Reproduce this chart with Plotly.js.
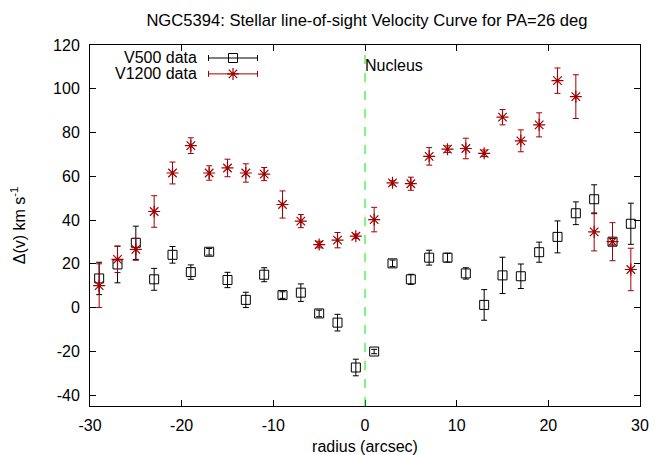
<!DOCTYPE html>
<html>
<head>
<meta charset="utf-8">
<script src="https://cdn.plot.ly/plotly-3.0.1.min.js"></script>
<style>html,body{margin:0;padding:0;background:#fff;}#chart{width:654px;height:455px;}</style>
</head>
<body>
<div id="chart"></div>
<script>
const radius = [-29,-27,-25,-23,-21,-19,-17,-15,-13,-11,-9,-7,-5,-3,-1,1,3,5,7,9,11,13,15,17,19,21,23,25,27,29];
const v500 = [13.3,19.7,29.6,12.9,24.1,16.2,25.5,12.6,3.5,15.0,5.7,6.8,-2.7,-6.9,-27.4,-20.1,20.2,12.9,22.8,22.8,15.6,1.2,14.7,14.3,25.3,32.3,43.1,49.5,30.1,38.3];
const v500err = [7.4,8.4,7.6,5.0,3.8,3.3,1.5,3.5,3.5,3.2,1.5,4.0,1.5,3.8,3.8,1.0,1.5,2.3,3.4,2.0,2.6,7.0,8.3,5.6,4.6,7.3,5.2,6.6,1.5,9.4];
const v1200 = [10.0,22.0,26.6,43.9,61.5,74.0,61.5,63.8,61.5,61.0,47.1,39.5,28.8,30.8,32.6,40.2,57.0,56.6,69.1,72.4,72.7,70.5,87.0,76.2,83.5,103.7,96.4,34.6,30.1,17.4];
const v1200err = [10.0,6.0,5.0,7.2,5.0,3.6,3.3,4.0,4.2,3.0,6.2,3.0,1.5,3.5,1.0,5.6,1.0,3.0,4.0,1.5,4.7,1.5,3.5,5.0,5.5,5.8,10.0,8.7,8.7,9.7];
const seriesNames = ['V500 data','V1200 data'];
const xTicks = [-30,-20,-10,0,10,20,30];
const yTicks = [-40,-20,0,20,40,60,80,100,120];

const black = '#000000';
const red = '#a00000';
const font = 'Liberation Sans, Arial, sans-serif';

const t500 = {
  x: radius, y: v500, type: 'scatter', mode: 'markers', name: seriesNames[0], showlegend: false,
  marker: {symbol: 'square-open', size: 9, color: black, line: {width: 1, color: black}},
  error_y: {type: 'data', array: v500err, visible: true, color: black, thickness: 1, width: 3}
};
const t1200 = {
  x: radius, y: v1200, type: 'scatter', mode: 'markers', name: seriesNames[1], showlegend: false,
  marker: {symbol: 'asterisk-open', size: 10, color: red, line: {width: 1.2, color: red}},
  error_y: {type: 'data', array: v1200err, visible: true, color: red, thickness: 1, width: 3}
};
// legend samples on a hidden overlay axis (0..1 of plot area)
const leg500 = {
  x: [0.26], y: [0.964], xaxis: 'x2', yaxis: 'y2', type: 'scatter', mode: 'markers', showlegend: false, hoverinfo: 'skip',
  marker: {symbol: 'square-open', size: 9, color: black, line: {width: 1, color: black}},
  error_x: {type: 'data', array: [0.0445], visible: true, color: black, thickness: 1, width: 3}
};
const leg1200 = {
  x: [0.26], y: [0.92], xaxis: 'x2', yaxis: 'y2', type: 'scatter', mode: 'markers', showlegend: false, hoverinfo: 'skip',
  marker: {symbol: 'asterisk-open', size: 10, color: red, line: {width: 1.2, color: red}},
  error_x: {type: 'data', array: [0.0445], visible: true, color: red, thickness: 1, width: 3}
};

const layout = {
  width: 654, height: 455,
  margin: {l: 90, r: 14, t: 45, b: 49},
  paper_bgcolor: '#fff', plot_bgcolor: '#fff',
  font: {family: font, size: 16, color: '#000'},
  title: {text: 'NGC5394: Stellar line-of-sight Velocity Curve for PA=26 deg', font: {family: font, size: 16.6}, x: 0.561, xanchor: 'center', y: 0.956, yanchor: 'middle'},
  showlegend: false,
  xaxis: {
    range: [-30, 30], tickvals: xTicks, ticktext: xTicks.map(String),
    ticks: 'inside', ticklen: 6, tickcolor: '#000', showline: true, linecolor: '#000', linewidth: 1, mirror: 'ticks',
    showgrid: false, zeroline: false, ticklabelstandoff: 5,
    title: {text: 'radius (arcsec)', font: {family: font, size: 16}, standoff: 11}
  },
  yaxis: {
    range: [-45, 120], tickvals: yTicks, ticktext: yTicks.map(String),
    ticks: 'inside', ticklen: 6, tickcolor: '#000', showline: true, linecolor: '#000', linewidth: 1, mirror: 'ticks',
    showgrid: false, zeroline: false, ticklabelstandoff: 6,
    title: {text: 'Δ(v) km s<sup>-1</sup>', font: {family: font, size: 16}, standoff: 23}
  },
  xaxis2: {overlaying: 'x', range: [0, 1], visible: false, fixedrange: true},
  yaxis2: {overlaying: 'y', range: [0, 1], visible: false, fixedrange: true},
  shapes: [{type: 'line', xref: 'x', yref: 'paper', x0: 0, x1: 0, y0: 0, y1: 1, line: {color: '#00ee00', width: 1, dash: 'dash'}}],
  annotations: [
    {text: 'Nucleus', xref: 'x', yref: 'paper', x: 0, y: 0.943, xanchor: 'left', yanchor: 'middle', xshift: -2, showarrow: false, font: {family: font, size: 16}},
    {text: seriesNames[0], xref: 'paper', yref: 'paper', x: 0.198, y: 0.964, xanchor: 'right', yanchor: 'middle', showarrow: false, font: {family: font, size: 16}},
    {text: seriesNames[1], xref: 'paper', yref: 'paper', x: 0.198, y: 0.92, xanchor: 'right', yanchor: 'middle', showarrow: false, font: {family: font, size: 16}}
  ]
};
Plotly.newPlot('chart', [t500, t1200, leg500, leg1200], layout, {displayModeBar: false, staticPlot: true});
</script>
</body>
</html>
